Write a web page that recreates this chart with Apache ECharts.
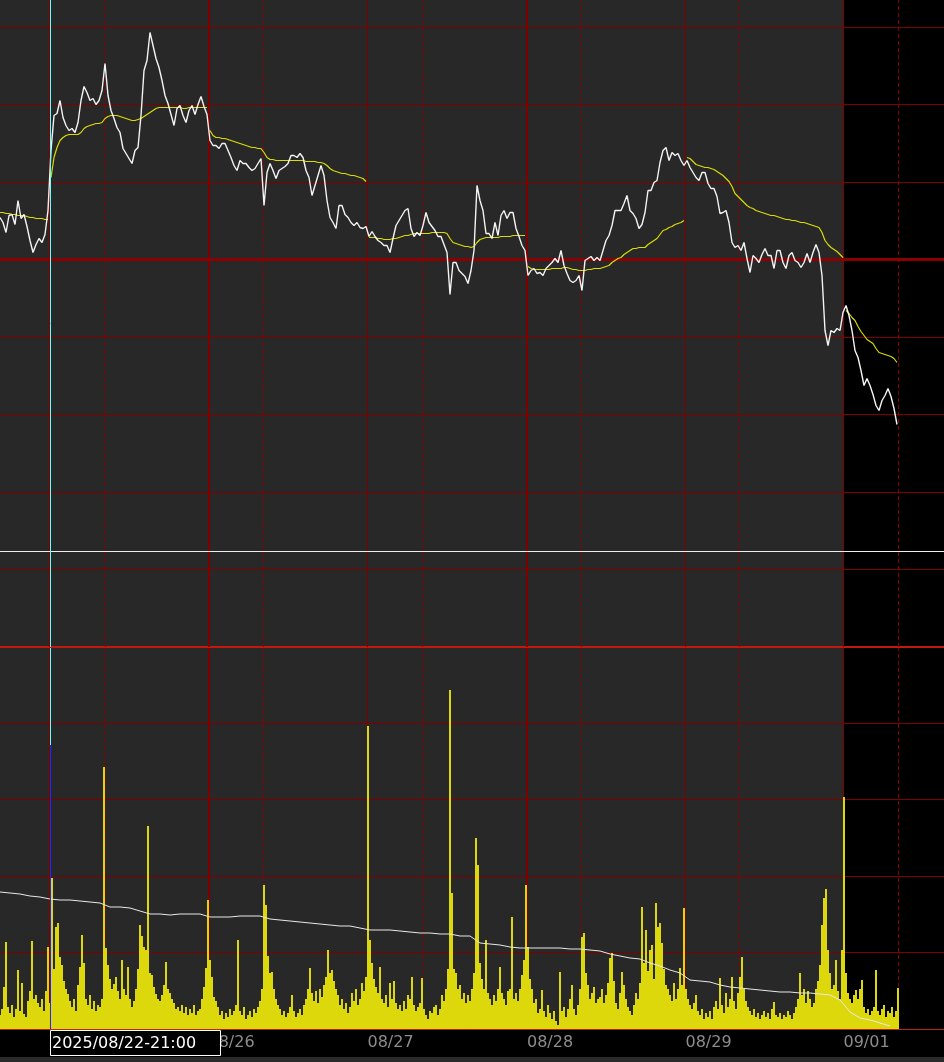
<!DOCTYPE html>
<html>
<head>
<meta charset="utf-8">
<script src="https://cdn.jsdelivr.net/npm/echarts@6.0.0/dist/echarts.min.js"></script>
<style>
html,body{margin:0;padding:0;background:#000;overflow:hidden;}
#chart{width:944px;height:1062px;}
</style>
</head>
<body>
<div id="chart"></div>
<script>
// ---------------- data (x axis in bars; price in ticks; volume in lots/100) ----------------
const dayStarts = [49.5, 208.5, 367.5, 527, 685.5, 843.5];
const dayLabels = ['08/25', '08/26', '08/27', '08/28', '08/29', '09/01'];
const midDays = [105.5, 263.5, 422.5, 581.5, 739.5, 898.5];
const crosshairBar = 50.5;
const crosshairLabel = '2025/08/22-21:00';
const currentDayStart = 844;
const xMax = 944;

const priceStep = 3;
const price = [
1042,1037,1027,1044,1045,1035,1059,1041,1045,1033,
1019,1007,1015,1021,1017,1025,1049,1109,1144,1146,
1159,1142,1134,1129,1131,1127,1137,1159,1173,1167,
1159,1161,1155,1159,1169,1196,1164,1149,1141,1132,
1127,1111,1106,1101,1096,1109,1112,1144,1189,1199,
1227,1214,1201,1192,1179,1164,1156,1145,1134,1151,
1154,1144,1137,1149,1154,1145,1155,1163,1153,1145,
1119,1114,1114,1111,1116,1116,1109,1102,1094,1089,
1099,1096,1096,1092,1089,1091,1096,1101,1054,1087,
1096,1089,1081,1089,1091,1093,1096,1104,1104,1102,
1106,1102,1089,1082,1064,1074,1084,1094,1084,1059,
1042,1037,1031,1054,1054,1045,1042,1037,1034,1037,
1032,1031,1033,1023,1028,1023,1019,1017,1014,1014,
1007,1021,1034,1039,1044,1049,1051,1031,1023,1027,
1024,1034,1047,1037,1033,1029,1023,1023,1015,1007,
965,997,997,989,986,983,976,989,1009,1074,
1059,1049,1026,1026,1021,1037,1024,1044,1049,1041,
1047,1047,1031,1023,1014,1009,984,989,991,986,
987,984,991,994,997,1001,997,1009,994,986,
979,977,979,984,969,999,1001,1003,999,1002,
999,1009,1019,1024,1034,1049,1049,1049,1056,1064,
1049,1046,1041,1031,1035,1047,1069,1069,1077,1079,
1097,1109,1112,1099,1107,1104,1106,1099,1094,1099,
1092,1087,1082,1079,1087,1087,1076,1071,1071,1063,
1046,1047,1049,1037,1017,1012,1014,1009,1017,1001,
987,1004,1001,997,1005,1011,1004,1004,991,1009,
1009,997,991,1004,1007,999,997,992,997,1006,
997,1007,1015,1007,984,929,914,929,927,931,
929,947,954,944,929,909,902,889,874,881,
874,865,854,849,859,864,871,863,851,835
];

// daily VWAP, same sampling as price (restarts at each day start)
const vwap = [
1047,1047,1046,1046,1045,1045,1044,1044,1044,1043,1042,1042,1041,1041,1041,1040,1040,
1082,1102,1112,1119,1122,1124,1125,1125,1125,1125,
1127,1131,1133,1134,1135,1136,1136,1137,1141,1143,
1144,1144,1144,1143,1142,1141,1140,1139,1139,1140,
1141,1143,1145,1147,1149,1151,1152,1152,1152,1152,
1152,1152,1152,1152,1151,1151,1152,1152,1152,1152,
1152,1152,1152,
1129,1124,1122,1122,1121,1121,1120,1119,1118,1117,
1116,1115,1114,1113,1112,1112,1111,1111,1107,1102,
1100,1100,1099,1099,1099,1099,1099,1099,1099,1099,
1099,1099,1098,1098,1098,1098,1097,1097,1096,1094,
1091,1089,1088,1087,1086,1086,1085,1084,1084,1083,
1082,1081,1078,
1022,1022,1022,1021,1021,1020,1020,1020,1021,1021,
1022,1023,1024,1024,1025,1026,1026,1026,1026,1026,
1026,1027,1027,1027,1027,1027,1026,1021,1017,1016,
1015,1014,1013,1013,1012,1013,1017,1020,1021,1022,
1022,1022,1022,1022,1023,1023,1023,1023,1024,1024,
1024,1024,1024,
993,991,990,990,990,990,990,990,991,991,
991,991,992,992,991,990,990,989,989,989,
990,990,991,991,991,992,993,994,997,999,
1001,1002,1005,1007,1009,1011,1011,1012,1012,1012,
1015,1017,1019,1021,1025,1029,1030,1032,1033,1035,
1036,1037,1039,
1102,1101,1098,1095,1094,1093,1092,1092,1091,1090,
1088,1086,1084,1081,1078,1073,1066,1063,1060,1057,
1054,1052,1051,1049,1048,1047,1046,1045,1044,1044,
1043,1042,1041,1040,1040,1039,1039,1038,1037,1037,
1036,1035,1034,1033,1032,1027,1019,1015,1012,1010,
1008,1005,1002,
949,946,942,939,933,928,924,920,918,916,
911,907,906,905,904,903,901,897
];

const keyLevel = 1000;
const refLevel = 708;
const priceGridLevels = [1232.5, 1155, 1077.5, 922.5, 845, 767.5, 690];
const priceMin = 612.5, priceMax = 1259.5;

const volumeStep = 2;
const volume = [
14,20,42,87,22,16,24,12,20,59,18,46,15,12,28,38,88,30,34,26,22,30,18,38,82,
26,151,60,102,106,72,64,48,40,35,28,22,30,18,44,62,94,66,30,24,34,20,28,18,24,
22,30,262,81,64,50,40,45,52,38,30,69,40,34,62,30,22,28,40,60,104,93,82,79,203,
56,54,42,35,30,28,34,44,67,40,36,30,26,20,22,18,24,16,22,14,20,16,24,14,18,
20,30,42,61,129,69,52,32,28,22,14,18,10,16,12,20,14,18,24,89,18,14,22,10,14,
18,12,20,16,22,28,40,144,124,73,56,57,40,30,24,20,14,18,12,16,22,34,18,12,16,
20,14,24,30,40,61,36,28,38,26,40,32,44,52,79,56,59,48,40,34,24,30,20,26,16,
22,36,28,40,24,30,46,38,52,303,89,66,50,42,36,62,30,26,34,22,46,30,48,26,20,
24,18,28,20,34,30,52,24,18,22,26,51,20,14,10,18,16,22,24,14,20,34,28,40,60,
339,136,60,56,40,44,30,36,26,34,28,40,56,191,164,66,50,40,89,36,30,24,34,28,40,
62,36,30,24,38,40,112,30,36,28,40,54,69,144,82,50,40,26,30,16,20,39,18,12,24,
16,10,18,8,4,57,18,22,12,20,30,44,20,14,24,40,92,96,56,44,30,36,42,26,30,
32,40,26,34,46,71,76,48,26,20,36,57,44,30,22,18,14,24,36,30,46,122,66,99,58,
79,84,50,126,102,106,86,60,44,40,34,28,46,30,40,61,44,121,40,30,24,20,26,34,18,
14,20,10,16,12,18,10,22,28,20,51,24,16,36,22,30,52,28,20,36,52,72,40,28,22,
18,14,20,12,16,10,14,18,12,16,10,20,27,14,12,16,10,14,12,18,14,10,16,22,30,
56,34,40,26,38,30,22,26,40,48,64,104,131,140,79,56,40,44,69,38,30,79,232,56,36,
30,26,34,39,30,40,49,22,16,20,14,18,22,59,18,14,20,24,12,18,16,22,12,18,41
];

const oiStep = 10;
const openInterest = [
137,136,135,133,132,130,129,129,128,127,
126,122,122,121,118,115,115,114,115,115,
115,112,112,112,113,113,113,110,109,108,
107,106,105,104,103,103,101,99,99,99,
98,97,96,96,95,95,93,93,86,85,
84,82,81,81,81,81,81,80,80,79,
78,75,73,71,70,66,63,59,56,49,
48,47,44,42,41,40,39,38,37,37,
36,36,35,34,29,17,11,9,6,3
];
const volGridLevels = [76.5, 152.5, 229.5, 305.5];
const volMax = 381;
const crosshairVolSplit = 284;

// ---------------- build ----------------
const pairs = (arr, step) => arr.map((v, i) => [i * step, v]);
function withBreaks(arr, step, breaks) {
  const out = [];
  let b = 0;
  arr.forEach((v, i) => {
    const x = i * step;
    while (b < breaks.length && breaks[b] < x) { out.push([breaks[b], '-']); b++; }
    out.push([x, v]);
  });
  return out;
}
const RED = '#800000';
const vLines = (vals, styleFn) => vals.map((v, i) => ({ xAxis: v, lineStyle: styleFn(i) }));
const hLines = (vals, style) => vals.map(v => ({ yAxis: v, lineStyle: style }));
const dayStyle = i => ({ color: RED, width: (i === 1 || i === 3) ? 2 : 1, type: 'solid' });
const midStyle = () => ({ color: '#8c0000', width: 1, type: [4, 3] });
const baseMark = { silent: true, symbol: ['none', 'none'], label: { show: false }, animation: false, emphasis: { disabled: true } };

const chart = echarts.init(document.getElementById('chart'), null, { renderer: 'canvas', width: 944, height: 1062 });

const option = {
  backgroundColor: '#000',
  animation: false,
  textStyle: { fontFamily: 'DejaVu Sans' },
  grid: [
    { left: 0, right: 0, top: 0, height: 647, show: true, backgroundColor: '#282828', borderWidth: 0 },
    { left: 0, right: 0, top: 648, height: 381, show: true, backgroundColor: '#282828', borderWidth: 0 }
  ],
  xAxis: [
    { gridIndex: 0, type: 'value', min: 0, max: xMax,
      axisLine: { show: true, onZero: false, lineStyle: { color: '#c4180c', width: 2 } },
      axisTick: { show: false }, axisLabel: { show: false }, splitLine: { show: false } },
    { gridIndex: 1, type: 'value', min: 0, max: xMax,
      axisLine: { show: true, onZero: false, lineStyle: { color: '#b42814', width: 1 } },
      axisTick: { show: false }, splitLine: { show: false },
      axisLabel: { show: true, customValues: dayStarts,
        formatter: v => { const k = dayStarts.indexOf(v); return k >= 0 ? dayLabels[k] : ''; },
        color: '#8c8c8c', fontSize: 16, fontFamily: 'DejaVu Sans', align: 'left', margin: 6, hideOverlap: false } }
  ],
  yAxis: [
    { gridIndex: 0, type: 'value', min: priceMin, max: priceMax, show: false },
    { gridIndex: 1, type: 'value', min: 0, max: volMax, show: false },
    { gridIndex: 1, type: 'value', min: 0, max: volMax, show: false }
  ],
  series: [
    // background for the current session (grid 0 / grid 1)
    { type: 'line', xAxisIndex: 0, yAxisIndex: 0, data: [[-100, -100]], showSymbol: false, silent: true, z: 0,
      markArea: { silent: true, z: 0, itemStyle: { color: '#000' }, data: [[{ xAxis: currentDayStart }, { xAxis: xMax }]] } },
    { type: 'line', xAxisIndex: 1, yAxisIndex: 1, data: [[-100, -100]], showSymbol: false, silent: true, z: 0,
      markArea: { silent: true, z: 0, itemStyle: { color: '#000' }, data: [[{ xAxis: currentDayStart }, { xAxis: xMax }]] } },
    // grid lines
    { type: 'line', xAxisIndex: 0, yAxisIndex: 0, data: [[-100, -100]], showSymbol: false, silent: true, z: 1,
      markLine: Object.assign({}, baseMark, { z: 1, data: [
        ...vLines(dayStarts, dayStyle),
        ...vLines(midDays, midStyle),
        ...hLines(priceGridLevels, { color: RED, width: 1, type: 'solid' }),
        { yAxis: keyLevel, lineStyle: { color: '#8b0000', width: 3, type: 'solid' } },
        { yAxis: refLevel, lineStyle: { color: '#eeeeee', width: 1, type: 'solid' } }
      ] }) },
    { type: 'line', xAxisIndex: 1, yAxisIndex: 1, data: [[-100, -100]], showSymbol: false, silent: true, z: 1,
      markLine: Object.assign({}, baseMark, { z: 1, data: [
        ...vLines(dayStarts, dayStyle),
        ...vLines(midDays, midStyle),
        ...hLines(volGridLevels, { color: RED, width: 1, type: 'solid' })
      ] }) },
    // volume
    { type: 'bar', name: 'volume', xAxisIndex: 1, yAxisIndex: 1, data: pairs(volume, volumeStep),
      barWidth: 2, itemStyle: { color: '#dcd80c' }, silent: true, z: 3 },
    // open interest
    { type: 'line', name: 'oi', xAxisIndex: 1, yAxisIndex: 2, data: pairs(openInterest, oiStep),
      showSymbol: false, lineStyle: { color: '#e8e8e8', width: 1 }, silent: true, z: 4 },
    // VWAP
    { type: 'line', name: 'vwap', xAxisIndex: 0, yAxisIndex: 0, data: withBreaks(vwap, priceStep, dayStarts),
      showSymbol: false, connectNulls: false, lineStyle: { color: '#dcdc00', width: 1.2 }, silent: true, z: 3 },
    // price
    { type: 'line', name: 'price', xAxisIndex: 0, yAxisIndex: 0, data: pairs(price, priceStep),
      showSymbol: false, lineStyle: { color: '#f4f4f4', width: 1.4 }, silent: true, z: 4 },
    // crosshair
    { type: 'line', xAxisIndex: 0, yAxisIndex: 0, data: [[-100, -100]], showSymbol: false, silent: true, z: 6,
      markLine: Object.assign({}, baseMark, { z: 6, data: [
        { xAxis: crosshairBar, lineStyle: { color: '#66ffff', width: 1, type: 'solid' } }
      ] }) },
    { type: 'line', xAxisIndex: 1, yAxisIndex: 1, data: [[-100, -100]], showSymbol: false, silent: true, z: 6,
      markLine: Object.assign({}, baseMark, { z: 6, data: [
        [{ coord: [crosshairBar, crosshairVolSplit], lineStyle: { color: '#66ffff', width: 1, type: 'solid' } }, { coord: [crosshairBar, volMax] }],
        [{ coord: [crosshairBar, 0], lineStyle: { color: '#2424ff', width: 1, type: 'solid' } }, { coord: [crosshairBar, crosshairVolSplit] }]
      ] }) }
  ]
};
chart.setOption(option);

// crosshair time label on the date axis, placed through the axis scale
const cx = Math.floor(chart.convertToPixel({ xAxisIndex: 1 }, crosshairBar));
const axisY = 648 + 381;
chart.setOption({
  graphic: [
    { type: 'rect', z: 100, shape: { x: 0, y: axisY + 28, width: 944, height: 6 }, style: { fill: '#2b2b2b' } },
    { type: 'rect', z: 101, shape: { x: cx + 0.5, y: axisY + 1.5, width: 170, height: 25 }, style: { fill: '#000', stroke: '#ffffff', lineWidth: 1 } },
    { type: 'text', z: 102, x: cx + 2, y: axisY + 14.5, style: { text: crosshairLabel, fill: '#ffffff', font: '16px "DejaVu Sans"', verticalAlign: 'middle', align: 'left' } }
  ]
});
</script>
</body>
</html>
